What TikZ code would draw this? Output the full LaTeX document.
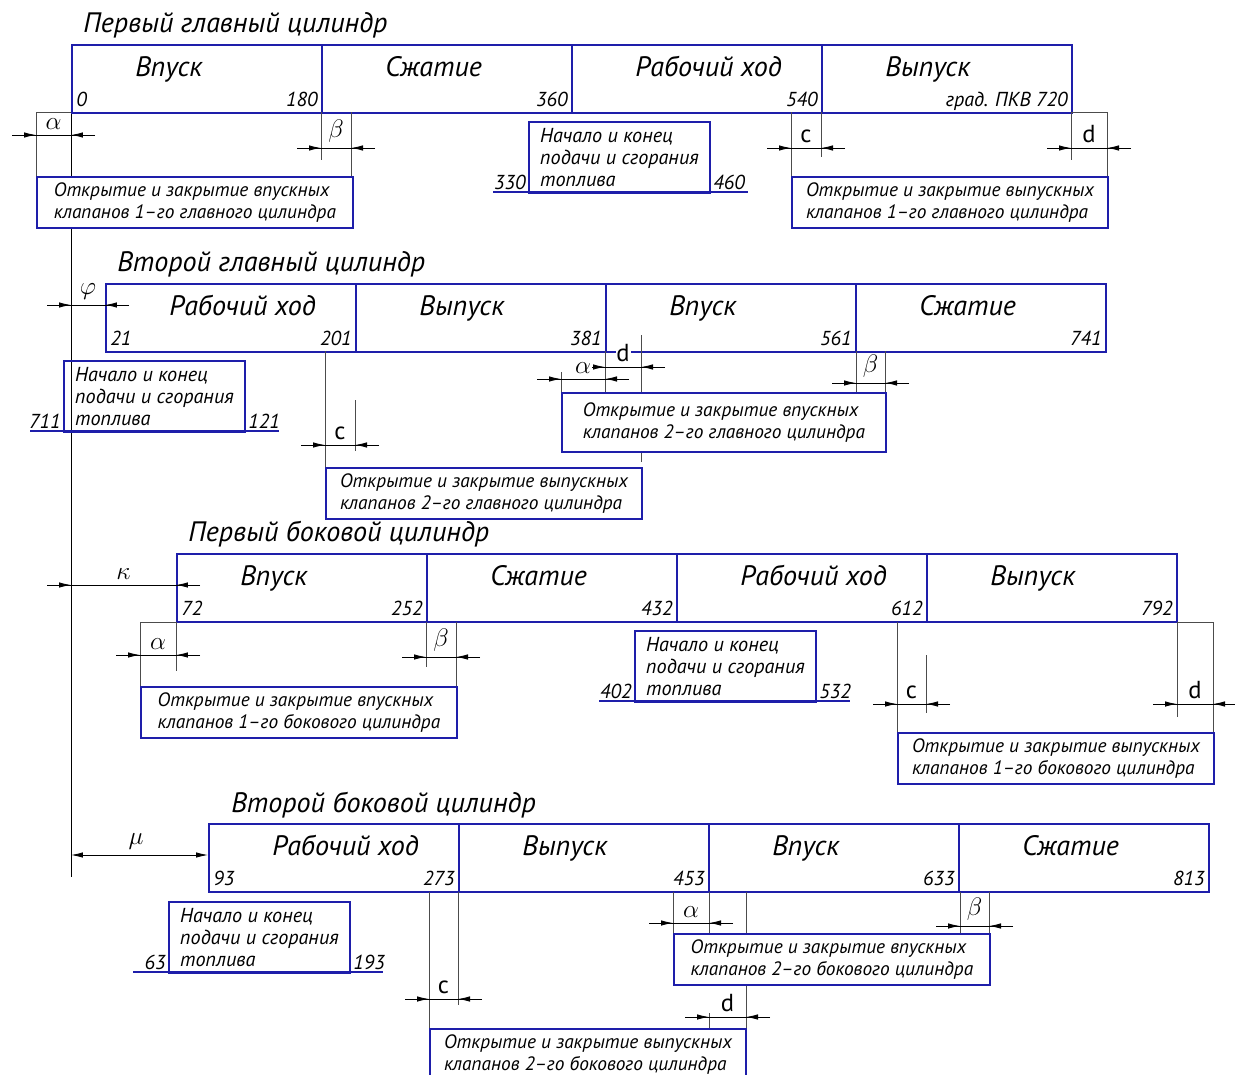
\documentclass[tikz,border=0pt]{standalone}
\usepackage{fontspec}
\setmainfont{PT Sans}
\usetikzlibrary{arrows.meta}
\definecolor{gostblue}{RGB}{30,30,170}

\begin{document}
\begin{tikzpicture}[x=0.02cm,y=-0.02cm]
    \tikzstyle{phase}=[draw=gostblue,line width=1.1pt,anchor=north west,inner sep=0pt,minimum width=5cm,minimum height=1.37cm]
    \tikzstyle{stage}=[anchor=base west,inner sep=0pt,font=\itshape\fontsize{16}{18}\selectfont]
    \tikzstyle{cyltitle}=[anchor=base west,inner sep=0pt,font=\itshape\fontsize{16}{18}\selectfont]
    \tikzstyle{deg}=[inner sep=0pt,font=\itshape\fontsize{11.5}{13}\selectfont]
    \tikzstyle{note}=[draw=gostblue,line width=1.1pt,fill=white,anchor=north west,align=left,inner sep=0pt,minimum width=6.32cm,minimum height=1.02cm,font=\itshape\fontsize{11}{12.5}\selectfont]
    \tikzstyle{fuel}=[draw=gostblue,line width=1.1pt,anchor=north west,align=left,inner sep=0pt,minimum width=3.62cm,minimum height=1.42cm,font=\itshape\fontsize{11.5}{12.5}\selectfont]
    \tikzstyle{fuelline}=[gostblue,line width=1.1pt]
    \tikzstyle{ext}=[black!70,line width=0.5pt]
    \tikzstyle{dim}=[black,line width=0.5pt]
    \tikzstyle{dimarrow}=[dim,-{Latex[length=2.4mm,width=1.1mm]}]
    \tikzstyle{lbl}=[anchor=south,fill=white,inner sep=0.5pt,font=\fontsize{14}{16}\selectfont]
    \useasboundingbox (0,0) rectangle (1235,1075);

    \node[cyltitle] (ta) at (83,32) {Первый главный цилиндр};
    \node[cyltitle] (tb) at (117,271) {Второй главный цилиндр};
    \node[cyltitle] (tc) at (188,541) {Первый боковой цилиндр};
    \node[cyltitle] (td) at (231,812) {Второй боковой цилиндр};

    \foreach \r/\xo/\yo/\lo/\ph in {
        a/71/44/0/{Впуск/180,Сжатие/360,Рабочий ход/540,Выпуск/{град. ПКВ 720}},
        b/105/283/21/{Рабочий ход/201,Выпуск/381,Впуск/561,Сжатие/741},
        c/176/553/72/{Впуск/252,Сжатие/432,Рабочий ход/612,Выпуск/792},
        d/208/823/93/{Рабочий ход/273,Выпуск/453,Впуск/633,Сжатие/813}}
    {
        \node[deg,anchor=base west] (z\r) at (\xo+5,\yo+62) {\lo};
        \foreach \t/\v [count=\i from 0] in \ph {
            \node[phase] (\r\i) at (\xo+250*\i,\yo) {};
            \node[stage] (s\r\i) at (\xo+250*\i+64,\yo+32) {\t};
            \node[deg,anchor=base east] (v\r\i) at (\xo+250*\i+247,\yo+62) {\v};
        }
    }

    \draw[dim] (a0.south west) -- (71,877);
    \foreach \x/\ya/\yb in {36/112/176,321/112/160,351/112/176,791/112/176,821/112/157,1071/112/160,1107/112/176,
        325/351/467,355/400/451,561/372/392,605/351/392,641/335/392,641/451/462,856/351/392,885/351/392,
        140/622/686,176/622/671,426/622/667,456/622/686,897/622/732,926/655/713,1177/622/717,1213/622/732,
        429/892/1028,458/892/1005,673/892/933,709/892/933,746/892/1028,709/1013/1028,960/892/933,989/892/933}
        \draw[ext] (\x,\ya) -- (\x,\yb);
    \foreach \xa/\xb/\y in {36/71/112,1071/1107/112,140/176/622,1177/1213/622}
        \draw[ext] (\xa,\y) -- (\xb,\y);

    \node[note] (na) at (36,176) {Открытие и закрытие впускных\\клапанов 1–го главного цилиндра};
    \node[note] (nb) at (791,176) {Открытие и закрытие выпускных\\клапанов 1–го главного цилиндра};
    \node[note,minimum width=6.48cm,minimum height=1.18cm] (nc) at (561,392) {Открытие и закрытие впускных\\клапанов 2–го главного цилиндра};
    \node[note] (nd) at (325,467) {Открытие и закрытие выпускных\\клапанов 2–го главного цилиндра};
    \node[note] (ne) at (140,686) {Открытие и закрытие впускных\\клапанов 1–го бокового цилиндра};
    \node[note] (nf) at (897,732) {Открытие и закрытие выпускных\\клапанов 1–го бокового цилиндра};
    \node[note] (ng) at (673,933) {Открытие и закрытие впускных\\клапанов 2–го бокового цилиндра};
    \node[note] (nh) at (429,1028) {Открытие и закрытие выпускных\\клапанов 2–го бокового цилиндра};

    \foreach \r/\x/\y/\xl/\xr/\a/\b in {a/528/121/493/748/330/460, b/63/360/30/279/711/121,
        c/634/630/599/850/402/532, d/168/901/133/383/63/193}
    {
        \node[fuel] (f\r) at (\x,\y) {Начало и конец\\подачи и сгорания\\топлива};
        \draw[fuelline] (\xl,\y+71) -- (\xr,\y+71);
        \node[deg,anchor=base east] (fl\r) at (\x-2,\y+68) {\a};
        \node[deg,anchor=base west] (fr\r) at (\x+185,\y+68) {\b};
    }

    \foreach \xa/\xb/\y/\l [count=\i] in {36/71/135/$\alpha$,321/351/148/$\beta$,791/821/148/c,1071/1107/148/d,
        71/105/305/$\varphi$,325/355/445/c,605/641/367/d,561/605/379/$\alpha$,856/885/383/$\beta$,
        71/176/585/$\kappa$,140/176/655/$\alpha$,426/456/657/$\beta$,897/926/704/c,1177/1213/704/d,
        429/458/999/c,709/746/1017/d,673/709/923/$\alpha$,960/989/926/$\beta$}
    {
        \draw[dim] (\xa-24,\y) -- (\xb+24,\y);
        \draw[dimarrow] (\xa-24,\y) -- (\xa,\y);
        \draw[dimarrow] (\xb+24,\y) -- (\xb,\y);
        \node[lbl] (l\i) at ({(\xa+\xb)/2},\y-4) {\l};
    }
    \draw[dim,{Latex[length=2.4mm,width=1.1mm]}-{Latex[length=2.4mm,width=1.1mm]}] (71,855) -- (d0.west |- 0,855);
    \node[lbl] (lmu) at (136,851) {$\mu$};
\end{tikzpicture}
\end{document}
